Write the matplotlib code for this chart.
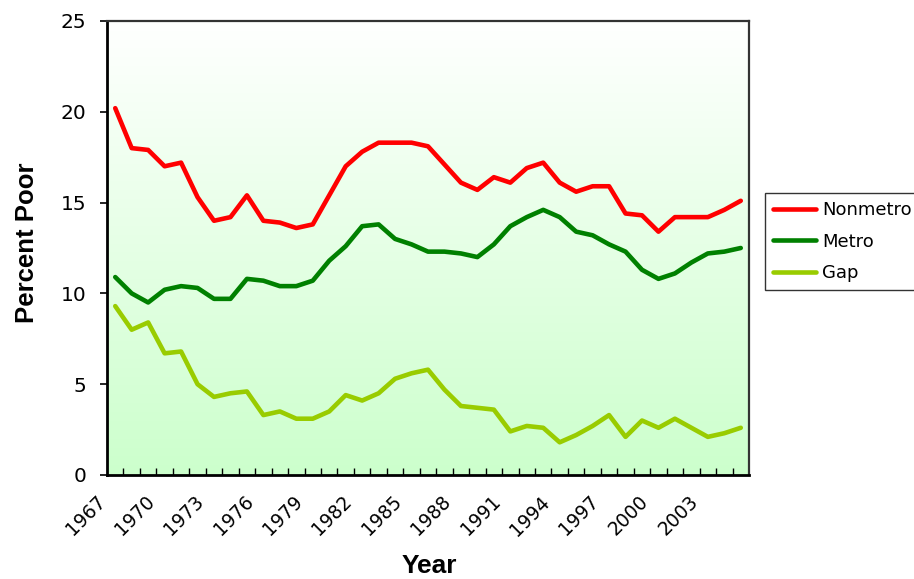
import numpy as np
import matplotlib
matplotlib.use("Agg")
import matplotlib.pyplot as plt
from matplotlib import transforms
from matplotlib.colors import LinearSegmentedColormap

years = [1967, 1968, 1969, 1970, 1971, 1972, 1973, 1974, 1975, 1976,
         1977, 1978, 1979, 1980, 1981, 1982, 1983, 1984, 1985, 1986,
         1987, 1988, 1989, 1990, 1991, 1992, 1993, 1994, 1995, 1996,
         1997, 1998, 1999, 2000, 2001, 2002, 2003, 2004, 2005]

nonmetro = [20.2, 18.0, 17.9, 17.0, 17.2, 15.3, 14.0, 14.2, 15.4, 14.0,
            13.9, 13.6, 13.8, 15.4, 17.0, 17.8, 18.3, 18.3, 18.3, 18.1,
            17.1, 16.1, 15.7, 16.4, 16.1, 16.9, 17.2, 16.1, 15.6, 15.9,
            15.9, 14.4, 14.3, 13.4, 14.2, 14.2, 14.2, 14.6, 15.1]

metro = [10.9, 10.0, 9.5, 10.2, 10.4, 10.3, 9.7, 9.7, 10.8, 10.7,
         10.4, 10.4, 10.7, 11.8, 12.6, 13.7, 13.8, 13.0, 12.7, 12.3,
         12.3, 12.2, 12.0, 12.7, 13.7, 14.2, 14.6, 14.2, 13.4, 13.2,
         12.7, 12.3, 11.3, 10.8, 11.1, 11.7, 12.2, 12.3, 12.5]

gap = [9.3, 8.0, 8.4, 6.7, 6.8, 5.0, 4.3, 4.5, 4.6, 3.3,
       3.5, 3.1, 3.1, 3.5, 4.4, 4.1, 4.5, 5.3, 5.6, 5.8,
       4.7, 3.8, 3.7, 3.6, 2.4, 2.7, 2.6, 1.8, 2.2, 2.7,
       3.3, 2.1, 3.0, 2.6, 3.1, 2.6, 2.1, 2.3, 2.6]

year_labels = ["1967", "1970", "1973", "1976", "1979", "1982", "1985",
               "1988", "1991", "1994", "1997", "2000", "2003"]
y_ticks = [0, 5, 10, 15, 20, 25]

series = [("Nonmetro", nonmetro, "#ff0000"),
          ("Metro", metro, "#008000"),
          ("Gap", gap, "#99cc00")]

W, H = 914, 579
fig = plt.figure(figsize=(W / 100, H / 100), dpi=100)
ax = fig.add_axes([107 / W, 1 - 475 / H, (749 - 107) / W, (475 - 21) / H])

# vertical gradient behind the plot: white at the top, pale green at the bottom
cmap = LinearSegmentedColormap.from_list("bg", ["#ffffff", "#ccffcc"])
grad = np.linspace(0, 1, 256).reshape(-1, 1)
ax.imshow(grad, extent=[0, 1, 0, 1], transform=ax.transAxes, aspect="auto",
          cmap=cmap, zorder=0, interpolation="bilinear")

x = np.arange(len(years))
handles = []
for name, vals, col in series:
    h, = ax.plot(x, vals, color=col, lw=3.3, solid_capstyle="round",
                 solid_joinstyle="round", label=name, zorder=3)
    handles.append(h)

ax.set_xlim(-0.5, len(years) - 0.5)
ax.set_ylim(0, 25)

# y axis
ax.set_yticks(y_ticks)
ax.set_yticklabels([str(v) for v in y_ticks], fontsize=14.5, family="DejaVu Sans")
ax.tick_params(axis="y", direction="out", length=5, width=1.2, pad=10,
               colors="black")

# x axis: tick marks between categories, labels every third year
ax.set_xticks(np.arange(0.5, len(years) - 0.5, 1.0))
ax.set_xticklabels([])
ax.tick_params(axis="x", direction="in", length=5, width=1.0)
base = transforms.blended_transform_factory(ax.transData, ax.transAxes)
lab_tr = transforms.offset_copy(base, fig=fig, x=-13, y=-24, units="dots")
for lab in year_labels:
    idx = years.index(int(lab))
    ax.text(idx, 0, lab, transform=lab_tr, rotation=45, rotation_mode="anchor",
            ha="right", va="center", fontsize=13.5, family="DejaVu Sans")

for side in ("left", "bottom"):
    ax.spines[side].set_color("black")
    ax.spines[side].set_linewidth(2.0)
for side in ("top", "right"):
    ax.spines[side].set_color("#333333")
    ax.spines[side].set_linewidth(1.6)

fig.text(27 / W, 1 - 243 / H, "Percent Poor", rotation=90, ha="center",
         va="center", fontsize=18.5, fontweight="bold", family="Liberation Sans")
fig.text(429 / W, 1 - 566 / H, "Year", ha="center", va="center",
         fontsize=19, fontweight="bold", family="Liberation Sans")

leg = fig.legend(handles=handles, loc="upper left",
                 bbox_to_anchor=(765 / W, 1 - 193 / H),
                 bbox_transform=fig.transFigure, borderaxespad=0,
                 prop={"family": "DejaVu Sans", "size": 13},
                 frameon=True, fancybox=False, borderpad=0.45,
                 handlelength=2.35, handletextpad=0.35, labelspacing=0.75)
leg.get_frame().set_edgecolor("black")
leg.get_frame().set_linewidth(1.0)
leg.get_frame().set_facecolor("white")

fig.savefig("out.png", dpi=100)
